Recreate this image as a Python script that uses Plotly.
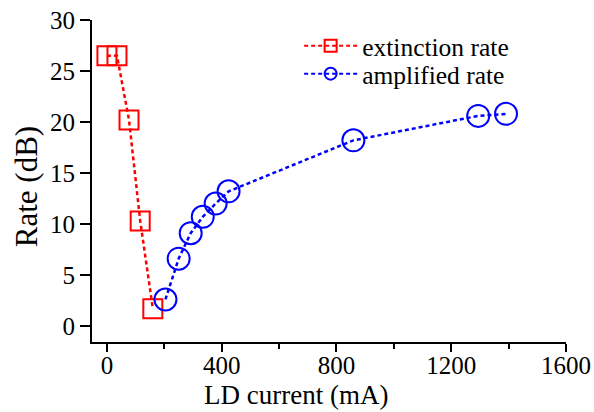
import plotly.graph_objects as go

ext_current = [0, 35, 77, 116, 160]
ext_rate = [26.5, 26.5, 20.2, 10.3, 1.7]

amp_current = [204, 250, 292, 334, 379, 424, 859, 1294, 1391]
amp_rate = [2.6, 6.6, 9.1, 10.7, 12.0, 13.2, 18.2, 20.6, 20.8]

x_ticks = [0, 400, 800, 1200, 1600]
y_ticks = [0, 5, 10, 15, 20, 25, 30]

RED = "#ff0000"
BLUE = "#0000ff"
FONT = "Liberation Serif"
DASH = "4px,3px"

fig = go.Figure()
fig.add_trace(go.Scatter(
    x=ext_current, y=ext_rate, mode="lines+markers", showlegend=False,
    line=dict(color=RED, width=2.5, dash=DASH),
    marker=dict(symbol="square-open", size=19, color=RED, line=dict(width=2, color=RED)),
))
fig.add_trace(go.Scatter(
    x=amp_current, y=amp_rate, mode="lines+markers", showlegend=False,
    line=dict(color=BLUE, width=2.5, dash=DASH),
    marker=dict(symbol="circle-open", size=22, color=BLUE, line=dict(width=2, color=BLUE)),
))
# legend entries
fig.add_trace(go.Scatter(
    x=[None], y=[None], mode="lines+markers", name="extinction rate", legend="legend",
    line=dict(color=RED, width=2, dash=DASH),
    marker=dict(symbol="square-open", size=12, color=RED, line=dict(width=2, color=RED)),
))
fig.add_trace(go.Scatter(
    x=[None], y=[None], mode="lines+markers", name="amplified rate", legend="legend2",
    line=dict(color=BLUE, width=2, dash=DASH),
    marker=dict(symbol="circle-open", size=12, color=BLUE, line=dict(width=2, color=BLUE)),
))

leg_common = dict(xanchor="left", yanchor="middle",
                  font=dict(family=FONT, size=25.5, color="black"),
                  bgcolor="rgba(0,0,0,0)", itemwidth=53)

fig.update_layout(
    width=594, height=412,
    margin=dict(l=92, r=28, t=20, b=70),
    paper_bgcolor="white", plot_bgcolor="white",
    font=dict(family=FONT, color="black", size=25),
    legend=dict(x=0.437, y=0.919, **leg_common),
    legend2=dict(x=0.437, y=0.832, **leg_common),
    annotations=[
        dict(text="LD current (mA)", xref="paper", yref="paper", x=0.43, y=-0.165,
             xanchor="center", yanchor="middle", showarrow=False,
             font=dict(family=FONT, size=27, color="black")),
        dict(text="Rate (dB)", xref="paper", yref="paper", x=-0.139, y=0.481,
             xanchor="center", yanchor="middle", showarrow=False, textangle=-90,
             font=dict(family=FONT, size=31, color="black")),
    ],
)
fig.update_xaxes(
    range=[-52, 1600], tickvals=x_ticks, ticktext=[str(v) for v in x_ticks],
    showgrid=False, zeroline=False, showline=True, linecolor="black", linewidth=2,
    ticks="outside", ticklen=8, tickwidth=2, tickcolor="black", ticklabelstandoff=-8,
    minor=dict(dtick=200, tick0=0, ticks="outside", ticklen=5, tickwidth=2, tickcolor="black", showgrid=False),
    tickfont=dict(family=FONT, size=25), automargin=False,
)
fig.update_yaxes(
    range=[-1.57, 30], tickvals=y_ticks, ticktext=[str(v) for v in y_ticks],
    showgrid=False, zeroline=False, showline=True, linecolor="black", linewidth=2,
    ticks="outside", ticklen=10, tickwidth=2, tickcolor="black",
    tickfont=dict(family=FONT, size=25), automargin=False,
)

fig.write_html("out.html", config={"displayModeBar": False},
               post_script="document.body.style.margin='0';document.body.style.padding='0';")
